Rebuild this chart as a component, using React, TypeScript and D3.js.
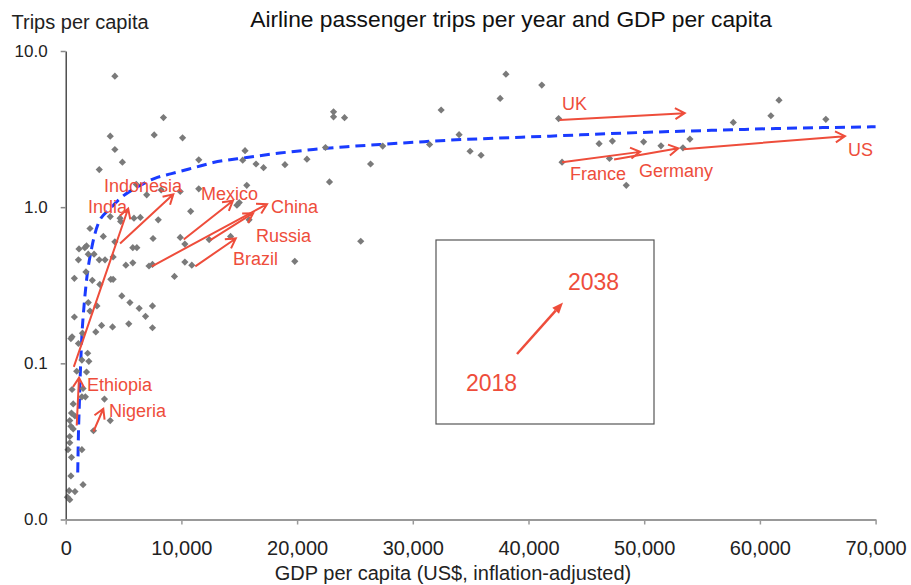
import React, { useEffect, useRef } from "react";
import * as d3 from "d3";

const W = 911;
const H = 585;
const FONT = "'Liberation Sans', Arial, sans-serif";
const RED = "#EE4D3B";

// Scatter: countries, 2018 (GDP per capita US$, trips per capita)
const pointGdp = [
  4250, 8450, 3850, 7650, 10100, 4250, 4900, 2900, 11500, 6100,
  7000, 8250, 9900, 11500, 10800, 3850, 4700, 4750, 5900, 6450,
  8000, 2100, 3250, 4250, 7550, 9900, 1150, 1650, 1800, 5800,
  6150, 1100, 1950, 2450, 2900, 3400, 4100, 5200, 5800, 7200,
  7500, 10300, 10900, 750, 1750, 2300, 2950, 3900, 4100, 9400,
  4850, 5550, 6350, 7500, 6900, 1950, 2100, 2700, 750, 3100,
  4050, 5450, 7500, 2600, 1450, 550, 450, 1100, 1900, 1400,
  2000, 950, 1800, 1500, 1700, 1400, 550, 3350, 3850, 2400,
  650, 500, 800, 350, 450, 650, 350, 200, 500, 1400,
  450, 1500, 300, 800, 150, 350, 350, 14250, 14800, 15000,
  15650, 12400, 19800, 10300, 15850, 15500, 15300, 16450, 17100, 18950,
  20850, 22450, 22800, 23150, 23150, 24100, 25500, 26350, 27400, 31450,
  32450, 34000, 34950, 35900, 37550, 38050, 41150, 42600, 42900, 46100,
  47250, 47000, 48450, 49950, 51450, 53350, 53950, 57700, 60950, 61650,
  65700,
];
const pointTrips = [
  6.9, 3.75, 2.85, 2.9, 2.78, 2.34, 1.94, 1.74, 2.01, 1.4,
  1.2, 1.29, 1.26, 1.31, 0.94, 0.87, 0.85, 0.81, 0.85, 0.86,
  0.83, 0.73, 0.65, 0.6, 0.63, 0.64, 0.54, 0.55, 0.565, 0.55,
  0.55, 0.46, 0.5, 0.5, 0.46, 0.46, 0.48, 0.425, 0.44, 0.42,
  0.43, 0.445, 0.425, 0.35, 0.385, 0.34, 0.32, 0.345, 0.345, 0.36,
  0.27, 0.245, 0.225, 0.233, 0.2, 0.245, 0.216, 0.233, 0.198, 0.175,
  0.171, 0.179, 0.169, 0.159, 0.156, 0.148, 0.144, 0.134, 0.116, 0.105,
  0.103, 0.089, 0.088, 0.069, 0.061, 0.061, 0.068, 0.059, 0.043, 0.037,
  0.055, 0.048, 0.046, 0.043, 0.0395, 0.038, 0.034, 0.028, 0.025, 0.028,
  0.019, 0.0167, 0.0153, 0.0151, 0.0139, 0.0134, 0.031, 0.65, 1.03, 1.07,
  1.38, 0.62, 0.45, 0.58, 0.83, 2.3, 2.0, 1.89, 1.79, 1.87,
  2.03, 2.41, 1.45, 4.08, 3.79, 3.74, 0.605, 1.89, 2.46, 2.52,
  4.19, 2.91, 2.28, 2.15, 4.97, 7.1, 6.05, 3.69, 1.94, 2.55,
  2.65, 2.05, 1.38, 2.62, 2.47, 2.4, 2.73, 3.49, 3.85, 4.84,
  3.65,
];

// Trend line (dashed blue)
const trendGdp = [
  1040, 1100, 1180, 1260, 1400, 1600, 1800, 2250, 2800, 3850,
  4850, 6300, 7700, 9150, 11200, 12750, 15650, 18500, 21400, 24300,
  27150, 30050, 32950, 35800, 41850, 48200, 56250, 63200, 70000,
];
const trendTrips = [
  0.02, 0.035, 0.055, 0.085, 0.15, 0.24, 0.34, 0.55, 0.78, 0.98,
  1.16, 1.36, 1.53, 1.64, 1.8, 1.93, 2.08, 2.22, 2.34, 2.44,
  2.52, 2.6, 2.68, 2.74, 2.85, 2.98, 3.11, 3.21, 3.27,
];

// Arrows 2018 -> 2038
const arrowCountries = ["UK", "France", "Germany", "US", "India", "Indonesia", "Mexico", "China", "Russia", "Brazil", "Ethiopia", "Nigeria"];
const gdp2018 = [42700, 42900, 47400, 53400, 700, 4700, 10200, 7450, 12500, 11200, 950, 2400];
const trips2018 = [3.62, 1.94, 2.02, 2.35, 0.095, 0.585, 0.62, 0.418, 0.615, 0.418, 0.04, 0.0366];
const gdp2038 = [53500, 49650, 52950, 67350, 5400, 9300, 14450, 17400, 16200, 14700, 1150, 3250];
const trips2038 = [4.0, 2.26, 2.38, 2.85, 0.98, 1.21, 1.1, 1.045, 0.915, 0.63, 0.081, 0.0512];

// Label placement (layout, pixels: left x, baseline y)
const labelPos: Record<string, [number, number]> = {
  UK: [562, 110],
  France: [570, 180],
  Germany: [639, 177],
  US: [848, 156],
  India: [88, 213],
  Indonesia: [104, 191.5],
  Mexico: [201, 200],
  China: [271, 213],
  Russia: [256, 241.5],
  Brazil: [233, 265],
  Ethiopia: [87, 391],
  Nigeria: [109, 417],
};

const xTicks = [0, 10000, 20000, 30000, 40000, 50000, 60000, 70000];
const yTicks = [0.01, 0.1, 1, 10];

const TITLE = "Airline passenger trips per year and GDP per capita";
const Y_TITLE = "Trips per capita";
const X_TITLE = "GDP per capita (US$, inflation-adjusted)";
const LEGEND_FROM = "2018";
const LEGEND_TO = "2038";

function arrowPath(x0: number, y0: number, x1: number, y1: number, L = 11, th = Math.PI / 6) {
  const a = Math.atan2(y1 - y0, x1 - x0);
  const h1x = x1 - L * Math.cos(a - th);
  const h1y = y1 - L * Math.sin(a - th);
  const h2x = x1 - L * Math.cos(a + th);
  const h2y = y1 - L * Math.sin(a + th);
  return `M${x0},${y0}L${x1},${y1}M${h1x},${h1y}L${x1},${y1}L${h2x},${h2y}`;
}

export default function App() {
  const xAxisRef = useRef<SVGGElement>(null);
  const yAxisRef = useRef<SVGGElement>(null);

  const x = d3.scaleLinear().domain([0, 70000]).range([65.7, 875.6]);
  const y = d3.scaleLog().domain([0.01, 10]).range([519.5, 51]);

  useEffect(() => {
    const gx = d3.select(xAxisRef.current!);
    gx.call(
      d3.axisBottom(x).tickValues(xTicks).tickFormat(d3.format(",") as any).tickSize(5).tickSizeOuter(0).tickPadding(16)
    );
    gx.attr("font-family", FONT).attr("font-size", 20);
    gx.select(".domain").attr("stroke", "#999").attr("stroke-width", 2);
    gx.selectAll(".tick line").attr("stroke", "#999").attr("stroke-width", 1.5);
    gx.selectAll(".tick text").attr("fill", "#222");

    const gy = d3.select(yAxisRef.current!);
    gy.call(
      d3.axisLeft(y).tickValues(yTicks).tickFormat(d3.format(".1f") as any).tickSize(5).tickSizeOuter(0).tickPadding(13)
    );
    gy.attr("font-family", FONT).attr("font-size", 17);
    gy.select(".domain").attr("stroke", "#333").attr("stroke-width", 1.3);
    gy.selectAll(".tick line").attr("stroke", "#888").attr("stroke-width", 1.5);
    gy.selectAll(".tick text").attr("fill", "#222");
  }, []);

  const diamond = d3.symbol(d3.symbolSquare, 26)() as string;
  const trendLine = d3
    .line<number>()
    .x((_, i) => x(trendGdp[i]))
    .y((_, i) => y(trendTrips[i]))
    .curve(d3.curveMonotoneX);

  // legend arrow
  const lx0 = 517, ly0 = 354, lx1 = 563, ly1 = 302.5;
  const la = Math.atan2(ly1 - ly0, lx1 - lx0);
  const hl = 11, hw = 4.5;
  const bx = lx1 - hl * Math.cos(la), by = ly1 - hl * Math.sin(la);
  const head = `M${lx1},${ly1}L${bx + hw * Math.sin(la)},${by - hw * Math.cos(la)}L${bx - hw * Math.sin(la)},${by + hw * Math.cos(la)}Z`;

  return (
    <svg width={W} height={H} style={{ position: "absolute", left: 0, top: 0, background: "#fff" }} fontFamily={FONT}>
      <rect width={W} height={H} fill="#fff" />
      <text x={511} y={26.7} textAnchor="middle" fontSize={22.8} fill="#111">{TITLE}</text>
      <text x={11.5} y={29} fontSize={20} fill="#222">{Y_TITLE}</text>
      <text x={453} y={580} textAnchor="middle" fontSize={20} fill="#222">{X_TITLE}</text>

      <path d={trendLine(trendGdp) || ""} fill="none" stroke="#1a3bff" strokeWidth={3} strokeDasharray="10,6" />

      <g fill="#7a7a7a">
        {pointGdp.map((g, i) => (
          <path key={i} d={diamond} transform={`translate(${x(g)},${y(pointTrips[i])}) rotate(45)`} />
        ))}
      </g>

      <g ref={yAxisRef} transform="translate(65.7,0)" />
      <g ref={xAxisRef} transform="translate(0,519.5)" />

      <g fill="none" stroke={RED} strokeWidth={2} strokeLinejoin="miter">
        {arrowCountries.map((c, i) => (
          <path key={c} d={arrowPath(x(gdp2018[i]), y(trips2018[i]), x(gdp2038[i]), y(trips2038[i]))} />
        ))}
      </g>
      <g fill={RED} fontSize={18}>
        {arrowCountries.map((c) => (
          <text key={c} x={labelPos[c][0]} y={labelPos[c][1]}>{c}</text>
        ))}
      </g>

      <rect x={436} y={240} width={218} height={184} fill="none" stroke="#555" strokeWidth={1.2} />
      <line x1={lx0} y1={ly0} x2={bx} y2={by} stroke={RED} strokeWidth={2.5} />
      <path d={head} fill={RED} />
      <text x={466} y={390.5} fontSize={23} fill={RED}>{LEGEND_FROM}</text>
      <text x={568} y={290} fontSize={23} fill={RED}>{LEGEND_TO}</text>
    </svg>
  );
}
